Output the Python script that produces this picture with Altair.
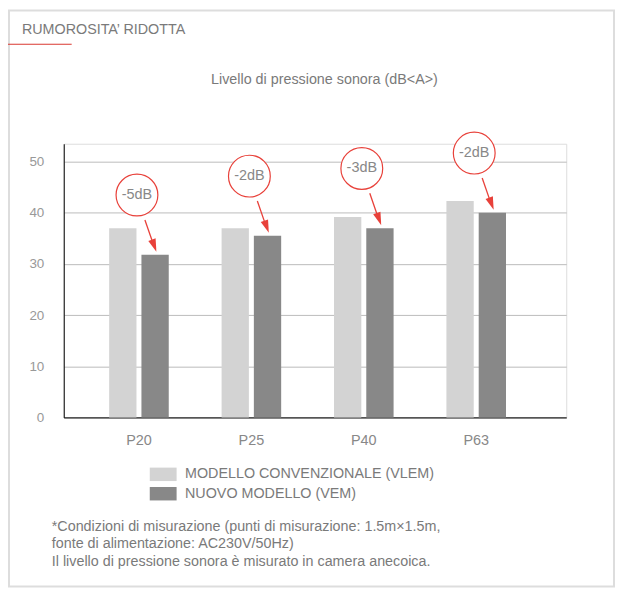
import altair as alt
import pandas as pd

models = ["P20", "P25", "P40", "P63"]
series = ["MODELLO CONVENZIONALE (VLEM)", "NUOVO MODELLO (VEM)"]
conv_vals = [37, 37, 39.2, 42.3]
new_vals = [31.8, 35.5, 37, 40]
diff_labels = ["-5dB", "-2dB", "-3dB", "-2dB"]
y_ticks = [0, 10, 20, 30, 40, 50]

header_text = "RUMOROSITA’ RIDOTTA"
title_text = "Livello di pressione sonora (dB<A>)"
footnote_lines = [
    "*Condizioni di misurazione (punti di misurazione: 1.5m×1.5m,",
    "fonte di alimentazione: AC230V/50Hz)",
    "Il livello di pressione sonora è misurato in camera anecoica.",
]

FONT = "Liberation Sans"
RED = "#e8413a"
TXT = "#7a7a7a"
FS = 14.4

rows = []
for m, c, n in zip(models, conv_vals, new_vals):
    rows.append({"model": m, "series": series[0], "value": c})
    rows.append({"model": m, "series": series[1], "value": n})
bars_df = pd.DataFrame(rows)
ann_df = pd.DataFrame({"model": models, "new": new_vals, "label": diff_labels})

W, H = 505, 275

x_enc = alt.X("model:N", sort=models,
              scale=alt.Scale(paddingInner=0.47, paddingOuter=0.47, align=0.43),
              axis=alt.Axis(title=None, labelAngle=0, ticks=False, labelPadding=16,
                            labelFontSize=14.5, labelColor="#888888", labelFont=FONT,
                            domainColor="#000000", domainWidth=1, grid=False))
y_scale = alt.Scale(domain=[0, 53.5], nice=False)

bars = alt.Chart(bars_df).mark_bar().encode(
    x=x_enc,
    xOffset=alt.XOffset("series:N", sort=series,
                        scale=alt.Scale(paddingInner=0.154, paddingOuter=0)),
    y=alt.Y("value:Q", scale=y_scale,
            axis=alt.Axis(title=None, values=y_ticks, ticks=False, labelPadding=20,
                          labelFontSize=13.5, labelColor="#999999", labelFont=FONT,
                          domainColor="#000000", domainWidth=1,
                          gridColor="#bbbbbb", gridWidth=1)),
    color=alt.Color("series:N", sort=series,
                    scale=alt.Scale(domain=series, range=["#d3d3d3", "#888888"]),
                    legend=alt.Legend(title=None, orient="none", legendX=92.75, legendY=325,
                                      symbolType="M-2,-1H2V1H-2Z", symbolSize=182,
                                      symbolStrokeWidth=0, labelFontSize=FS,
                                      labelColor=TXT, labelFont=FONT, labelOffset=14.75,
                                      labelLimit=600, rowPadding=4.5, padding=0)),
)

base_ann = alt.Chart(ann_df)
xa = alt.X("model:N", sort=models)
circles = base_ann.mark_point(shape="circle", filled=True, fill="white", stroke=RED,
                              strokeWidth=1.2, size=1764, opacity=1,
                              xOffset=-2, yOffset=-60).encode(
    x=xa, y=alt.Y("new:Q", scale=y_scale))
circle_text = base_ann.mark_text(font=FONT, fontSize=14.5, color="#888888",
                                 xOffset=-2, yOffset=-60, baseline="middle",
                                 align="center").encode(
    x=xa, y=alt.Y("new:Q", scale=y_scale), text="label:N")
arrow_line = base_ann.mark_rule(color=RED, strokeWidth=1.3, xOffset=6, x2Offset=15,
                                yOffset=-35, y2Offset=-9).encode(
    x=xa, x2=alt.X2("model:N"), y=alt.Y("new:Q", scale=y_scale), y2="new:Q")
arrow_head = base_ann.mark_point(shape="M-0.6,-1L0.6,-1L0,1Z", filled=True, fill=RED,
                                 strokeWidth=0, size=169, angle=340, opacity=1,
                                 xOffset=15.3, yOffset=-9.1).encode(
    x=xa, y=alt.Y("new:Q", scale=y_scale))

one = pd.DataFrame({"t": [0]})
border = alt.Chart(one).mark_rect(fill=None, stroke="#dddddd", strokeWidth=2).encode(
    x=alt.value(-55), x2=alt.value(553), y=alt.value(-134), y2=alt.value(445))
red_line = alt.Chart(one).mark_rule(color="#d9372f", strokeWidth=1).encode(
    x=alt.value(-56), x2=alt.value(8), y=alt.value(-100))
header = alt.Chart(pd.DataFrame({"t": [header_text]})).mark_text(
    font=FONT, fontSize=FS, color=TXT, align="left", baseline="alphabetic").encode(
    text="t:N", x=alt.value(-42), y=alt.value(-110))
title = alt.Chart(pd.DataFrame({"t": [title_text]})).mark_text(
    font=FONT, fontSize=FS, color=TXT, align="center", baseline="alphabetic").encode(
    text="t:N", x=alt.value(262), y=alt.value(-60))
foot = alt.Chart(pd.DataFrame({"t": ["\n".join(footnote_lines)]})).mark_text(
    font=FONT, fontSize=FS, color=TXT, align="left", baseline="alphabetic",
    lineBreak="\n", lineHeight=17.5).encode(
    text="t:N", x=alt.value(-12), y=alt.value(389))

chart = alt.layer(border, red_line, header, title, bars, arrow_line, arrow_head,
                  circles, circle_text, foot).properties(
    width=W, height=H,
    autosize=alt.AutoSizeParams(type="none"),
    padding={"left": 56, "top": 135, "right": 49, "bottom": 172},
).configure_view(stroke=None).configure(background="white")

chart.save("out.html", embed_options={"renderer": "svg", "actions": False})
